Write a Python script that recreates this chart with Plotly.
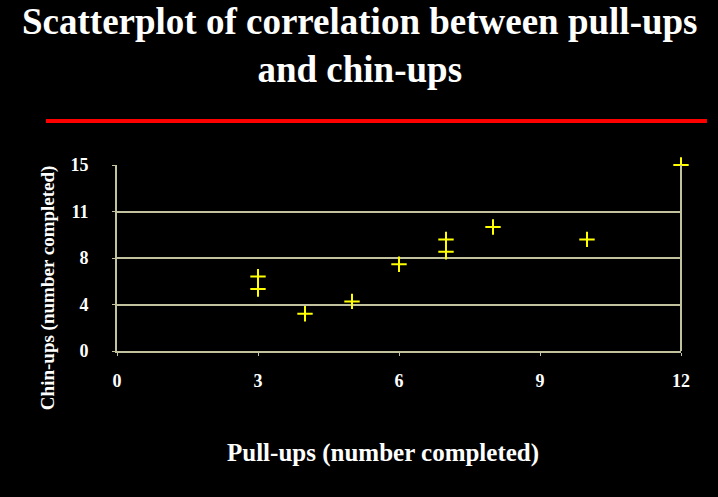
import plotly.graph_objects as go

# ---------------- Data ----------------
pull_ups = [3, 3, 4, 5, 6, 7, 7, 8, 10, 12]
chin_ups = [6, 5, 3, 4, 7, 9, 8, 10, 9, 15]

x_ticks = [0, 3, 6, 9, 12]
y_tickvals = [0, 3.75, 7.5, 11.25, 15]
y_ticktext = ["0", "4", "8", "11", "15"]

AXIS = "#c2c29e"
SERIF = "Liberation Serif, Times New Roman, serif"

fig = go.Figure(
    go.Scatter(
        x=pull_ups,
        y=chin_ups,
        mode="markers",
        marker=dict(symbol="cross-thin", size=11, line=dict(color="#ffff00", width=2)),
        cliponaxis=False,
    )
)

fig.update_layout(
    width=718,
    height=497,
    paper_bgcolor="black",
    plot_bgcolor="black",
    showlegend=False,
    margin=dict(l=117, r=37, t=165, b=146),
    shapes=[
        # red divider under the title
        dict(type="line", xref="paper", yref="paper",
             x0=-0.126, x1=1.046, y0=1.237, y1=1.237,
             line=dict(color="#ff0000", width=4)),
        # right border of the plot box
        dict(type="line", xref="paper", yref="paper",
             x0=1, x1=1, y0=0, y1=1,
             line=dict(color=AXIS, width=2)),
    ],
    annotations=[
        dict(text="<b>Scatterplot of correlation between pull-ups<br>and chin-ups</b>",
             xref="paper", yref="paper", x=0.43, y=1.64,
             xanchor="center", yanchor="middle", showarrow=False,
             font=dict(family=SERIF, size=37, color="white")),
        dict(text="<b>Chin-ups (number completed)</b>", textangle=-90,
             xref="paper", yref="paper", x=-0.122, y=0.339,
             xanchor="center", yanchor="middle",
             showarrow=False, font=dict(family=SERIF, size=19, color="white")),
        dict(text="<b>Pull-ups (number completed)</b>",
             xref="paper", yref="paper", x=0.472, y=-0.548,
             xanchor="center", yanchor="middle",
             showarrow=False, font=dict(family=SERIF, size=25, color="white")),
    ],
)

fig.update_xaxes(
    range=[0, 12],
    tickvals=x_ticks,
    ticks="outside",
    ticklen=3,
    tickcolor=AXIS,
    showline=True,
    linecolor=AXIS,
    linewidth=2,
    showgrid=False,
    zeroline=False,
    tickfont=dict(family=SERIF, size=18, color="white", weight="bold"),
    ticklabelstandoff=9,
)

fig.update_yaxes(
    range=[0, 15],
    tickvals=y_tickvals,
    ticktext=y_ticktext,
    ticks="outside",
    ticklen=3,
    tickcolor=AXIS,
    showline=True,
    linecolor=AXIS,
    linewidth=2,
    showgrid=True,
    gridcolor=AXIS,
    gridwidth=2,
    zeroline=False,
    tickfont=dict(family=SERIF, size=18, color="white", weight="bold"),
    ticklabelstandoff=20,
)

fig.write_html(
    "out.html",
    config={"displayModeBar": False},
    post_script="document.body.style.margin='0';",
)
